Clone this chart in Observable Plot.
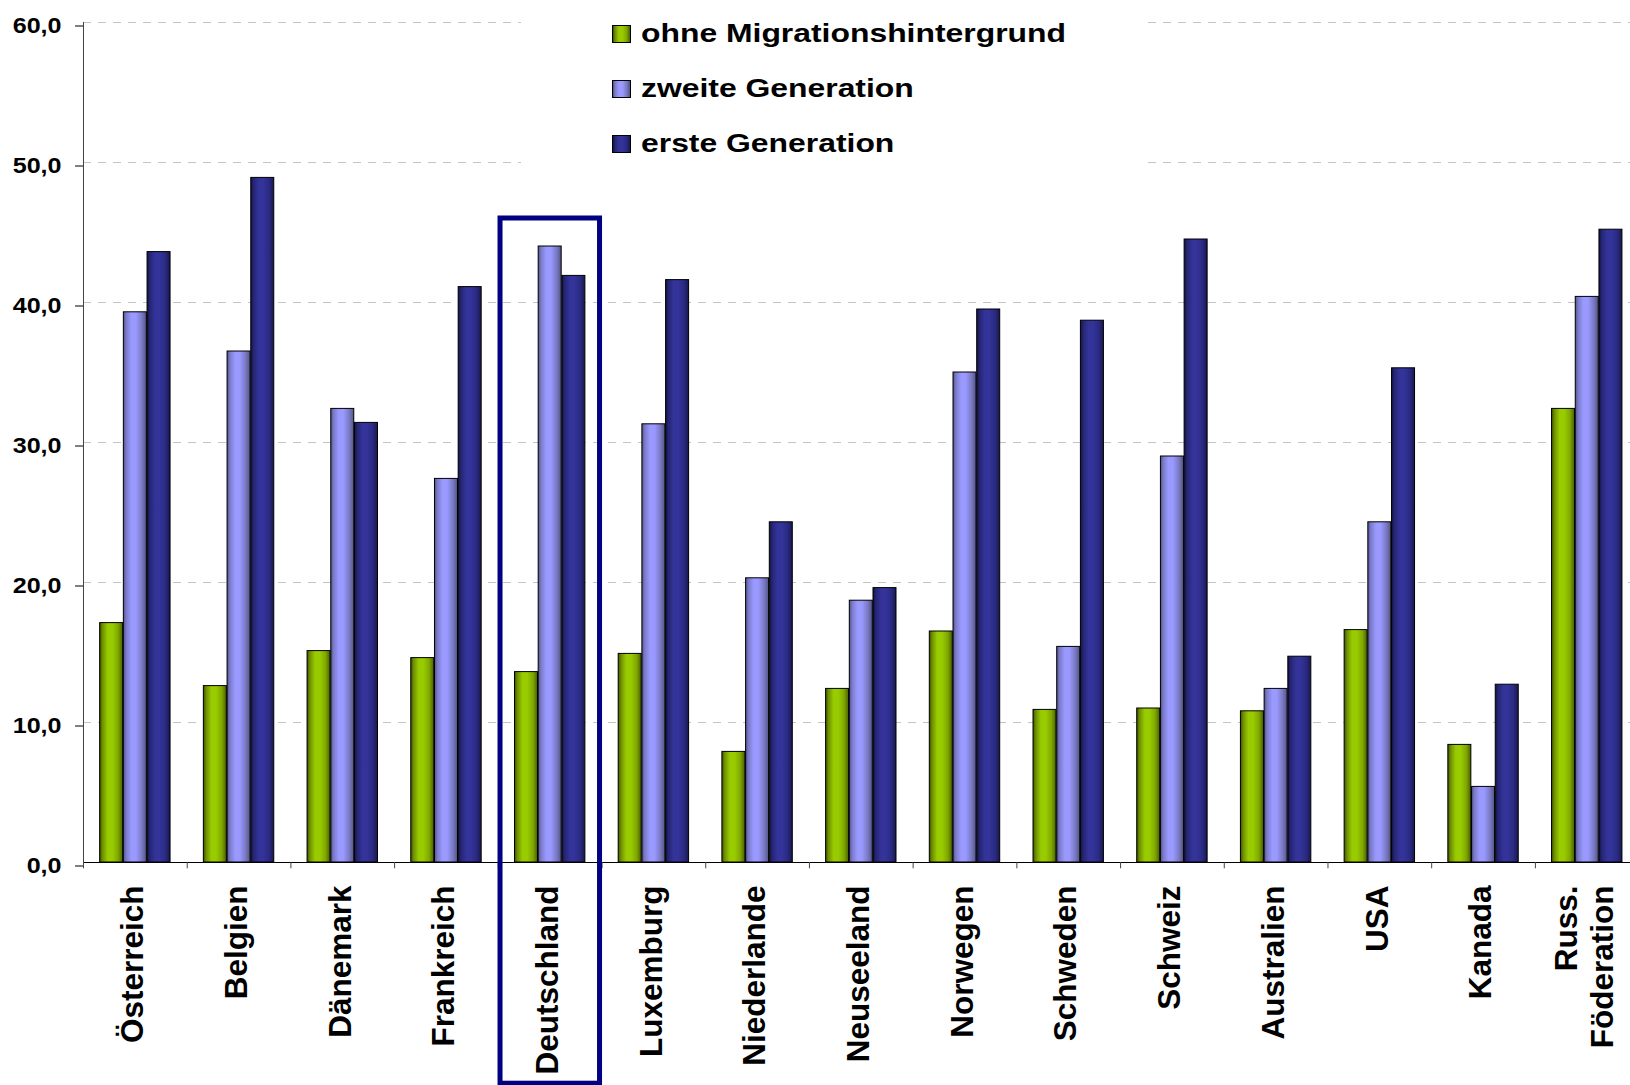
<!DOCTYPE html>
<html>
<head>
<meta charset="utf-8">
<script src="https://cdn.jsdelivr.net/npm/d3@7"></script>
<script src="https://cdn.jsdelivr.net/npm/@observablehq/plot@0.6"></script>
<style>
  html, body { margin: 0; padding: 0; background: white; overflow: hidden; }
  #wrap { position: relative; width: 1630px; height: 1085px; }
  #wrap svg { display: block; max-width: none; }
  #legend { position: absolute; left: 521px; top: 0; width: 626px; height: 175px; background: white; }
  .row { position: absolute; left: 91px; height: 30px; display: flex; align-items: center; }
  .sw { width: 19px; height: 18px; box-sizing: border-box; border: 1px solid #000; }
  .lt { margin-left: 10px; font: 700 25.5px "Liberation Sans", Arial, sans-serif; line-height: 1;
        white-space: nowrap; transform: scaleX(1.25); transform-origin: 0 50%; color: #000; }
</style>
</head>
<body>
<div id="wrap"></div>
<script>
// ---- data ----
const countries = ["Österreich", "Belgien", "Dänemark", "Frankreich", "Deutschland", "Luxemburg",
  "Niederlande", "Neuseeland", "Norwegen", "Schweden", "Schweiz", "Australien", "USA", "Kanada",
  "Russ. Föderation"];
const countryLabels = ["Österreich", "Belgien", "Dänemark", "Frankreich", "Deutschland", "Luxemburg",
  "Niederlande", "Neuseeland", "Norwegen", "Schweden", "Schweiz", "Australien", "USA", "Kanada",
  "Russ.\nFöderation"];
const series = ["ohne Migrationshintergrund", "zweite Generation", "erste Generation"];
const ohne   = [17.1, 12.6, 15.1, 14.6, 13.6, 14.9,  7.9, 12.4, 16.5, 10.9, 11.0, 10.8, 16.6,  8.4, 32.4];
const zweite = [39.3, 36.5, 32.4, 27.4, 44.0, 31.3, 20.3, 18.7, 35.0, 15.4, 29.0, 12.4, 24.3,  5.4, 40.4];
const erste  = [43.6, 48.9, 31.4, 41.1, 41.9, 41.6, 24.3, 19.6, 39.5, 38.7, 44.5, 14.7, 35.3, 12.7, 45.2];
const yTicks = [0, 10, 20, 30, 40, 50, 60];
const highlight = ["Deutschland"];
const highlightSpan = [-15.8, 46.0];

// ---- styling ----
const gradients = {
  gGreen: [[0, "#3d5000"], [0.12, "#6e8f00"], [0.35, "#99cc00"], [0.55, "#99cc00"], [0.8, "#80a800"], [1, "#4a6100"]],
  gLight: [[0, "#50508a"], [0.12, "#7a7ac8"], [0.35, "#9999ff"], [0.55, "#9999ff"], [0.8, "#7a7ac4"], [1, "#555588"]],
  gDark:  [[0, "#121242"], [0.12, "#252573"], [0.35, "#333399"], [0.55, "#333399"], [0.8, "#2a2a82"], [1, "#18184c"]]
};
const gradIds = ["gGreen", "gLight", "gDark"];
const valuesBySeries = [ohne, zweite, erste];

const rows = [];
series.forEach((s, si) => countries.forEach((c, ci) => rows.push({country: c, series: s, value: valuesBySeries[si][ci]})));

const W = 1630, H = 1085;
const xr = [83, 1638.6];
const bw = (xr[1] - xr[0]) / countries.length;
const barW = 23, step = 23.7;
const inset = (bw - barW) / 2;
const font = '"Liberation Sans", Arial, sans-serif';

const marks = [
  Plot.ruleY(yTicks.filter(d => d > 0), {y: d => d, stroke: "#c4c4c4", strokeWidth: 1, strokeDasharray: "8,7"}),
  ...series.map((s, si) => Plot.barY(rows.filter(r => r.series === s), {
    x: "country", y: "value", fill: `url(#${gradIds[si]})`, stroke: "#000", strokeWidth: 1,
    insetLeft: inset, insetRight: inset, dx: (si - 1) * step
  })),
  Plot.ruleY([0], {stroke: "#000", strokeWidth: 1.2}),
  Plot.ruleX([countries[0]], {x: d => d, dx: -bw / 2, y1: 0, y2: 60, stroke: "#444"}),
  Plot.ruleX(countries, {x: d => d, dx: -bw / 2, y1: 0, y2: -0.45, stroke: "#444"}),
  Plot.axisY({ticks: yTicks, tickFormat: d => d.toFixed(1).replace(".", ","), tickSize: 8, tickPadding: 14,
    fontSize: 22, fontWeight: "bold", label: null, dy: 3.5}),
  Plot.text(countries, {x: d => d, text: (d, i) => countryLabels[i], frameAnchor: "bottom", rotate: -90,
    textAnchor: "end", lineAnchor: "middle", dx: -4, dy: 23, fontSize: 31.5, fontWeight: "bold", lineHeight: 1.167,
    fill: "#000", ariaLabel: "xlabels"}),
  Plot.barY(highlight, {x: d => d, y1: highlightSpan[0], y2: highlightSpan[1], fill: "none",
    stroke: "#000080", strokeWidth: 5, insetLeft: 2.2, insetRight: 2})
];

const chart = Plot.plot({
  width: W, height: H,
  marginLeft: 83, marginRight: 0, marginTop: 22, marginBottom: 223,
  x: {domain: countries, range: xr, padding: 0, round: false, axis: null},
  y: {domain: [0, 60], label: null, axis: null},
  style: {fontFamily: font, background: "white", color: "#000"},
  marks
});

// gradients
const svg = d3.select(chart);
const defs = svg.insert("defs", ":first-child");
for (const [id, stops] of Object.entries(gradients)) {
  const g = defs.append("linearGradient").attr("id", id).attr("x1", 0).attr("x2", 1).attr("y1", 0).attr("y2", 0);
  stops.forEach(([o, c]) => g.append("stop").attr("offset", o).attr("stop-color", c));
}
function stretch(sel, sx, sy) {
  sel.each(function() {
    const t = this.getAttribute("transform") || "";
    this.setAttribute("transform", (t + ` scale(${sx},${sy})`).trim());
  });
}
const ylab = svg.selectAll("text").filter(function() { return /^\d+,\d$/.test(this.textContent); });
ylab.style("font-size", "22px").style("font-weight", "bold").attr("fill", "#000");
stretch(ylab, 1.14, 1);
stretch(svg.selectAll('g[aria-label="xlabels"] text'), 1, 1.17);

const wrap = document.getElementById("wrap");
wrap.appendChild(chart);

// legend
const legend = document.createElement("div");
legend.id = "legend";
const centers = [34, 88.5, 143.5];
series.forEach((s, i) => {
  const row = document.createElement("div");
  row.className = "row";
  row.style.top = (centers[i] - 15) + "px";
  const sw = document.createElement("div");
  sw.className = "sw";
  sw.style.background = `linear-gradient(to right, ${gradients[gradIds[i]].map(([o, c]) => `${c} ${o * 100}%`).join(", ")})`;
  const lt = document.createElement("span");
  lt.className = "lt";
  lt.textContent = s;
  row.appendChild(sw); row.appendChild(lt);
  legend.appendChild(row);
});
wrap.appendChild(legend);
</script>
</body>
</html>
